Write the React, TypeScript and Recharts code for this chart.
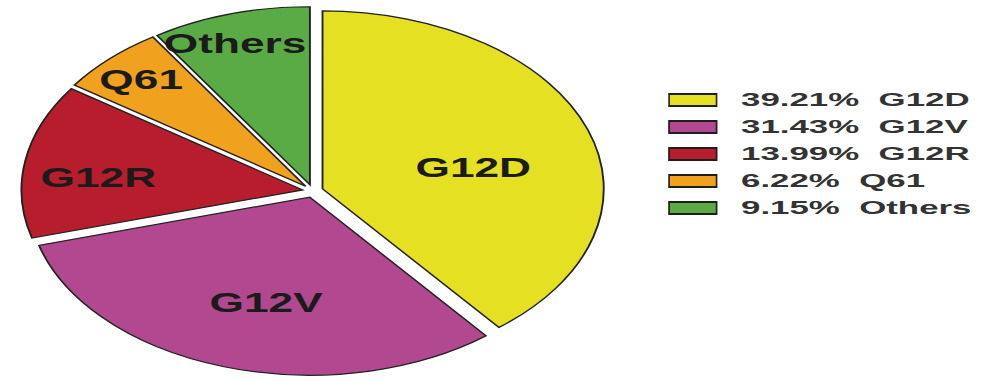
import React from 'react';
import { PieChart, Pie, Cell, Sector, Legend } from 'recharts';

// KRAS mutation subtypes and their share of cases (%)
const categories = ['G12D', 'G12V', 'G12R', 'Q61', 'Others'];
const shares = [39.21, 31.43, 13.99, 6.22, 9.15];

const SLICE_COLORS = ['#e6e022', '#b2488f', '#b81d2e', '#f0a21e', '#5aab46'];

// label placement inside each slice: [fraction of radius, angle tweak in degrees]
const LABEL_PLACE: Record<string, [number, number]> = {
  G12D: [0.55, -6.5],
  G12V: [0.61, 3],
  G12R: [0.73, 4],
  Q61: [0.84, 0],
  Others: [0.84, 2],
};

const data = categories.map((name, i) => ({ name, value: shares[i] }));

const RADIAN = Math.PI / 180;
const EXPLODE = 6.5;
const STRETCH = 1.58;
const WIDTH = 625;
const HEIGHT = 380;
const FONT = '"Liberation Sans", Arial, Helvetica, sans-serif';

const ExplodedSlice = (props: any) => {
  const { cx, cy, midAngle } = props;
  const dx = EXPLODE * Math.cos(-midAngle * RADIAN);
  const dy = EXPLODE * Math.sin(-midAngle * RADIAN);
  return <Sector {...props} cx={cx + dx} cy={cy + dy} />;
};

const SliceLabel = (props: any) => {
  const { cx, cy, midAngle, outerRadius, name } = props;
  const [frac, tweak] = LABEL_PLACE[name] ?? [0.65, 0];
  const ox = cx + EXPLODE * Math.cos(-midAngle * RADIAN);
  const oy = cy + EXPLODE * Math.sin(-midAngle * RADIAN);
  const a = (midAngle + tweak) * RADIAN;
  const r = outerRadius * frac;
  const x = ox + r * Math.cos(-a);
  const y = oy + r * Math.sin(-a);
  return (
    <text
      x={x}
      y={y}
      textAnchor="middle"
      dominantBaseline="central"
      fill="#1b1b1b"
      fontFamily={FONT}
      fontWeight={700}
      fontSize={28}
    >
      {name}
    </text>
  );
};

// legend rows follow the slice order, colours taken from the rendered payload
const LegendList = (props: any) => {
  const items: any[] = props.payload ?? [];
  return (
    <div>
      {categories.map((name, idx) => {
        const item = items.find((p) => p.value === name);
        const color = item?.color ?? SLICE_COLORS[idx];
        const text = `${shares[idx].toFixed(2)}%  ${name}`;
        return (
          <div key={name} style={{ height: 27.2, display: 'flex', alignItems: 'center' }}>
            <span
              style={{
                width: 31.6,
                height: 14,
                boxSizing: 'border-box',
                borderStyle: 'solid',
                borderColor: '#1e1e1e',
                borderWidth: '2px 1.3px',
                background: color,
                flex: 'none',
              }}
            />
            <span
              style={{
                marginLeft: 14.8,
                fontFamily: FONT,
                fontWeight: 700,
                fontSize: 18,
                lineHeight: '18px',
                color: '#333333',
                whiteSpace: 'pre',
                transform: 'scaleX(1.225)',
                transformOrigin: '0 50%',
              }}
            >
              {text}
            </span>
          </div>
        );
      })}
    </div>
  );
};

export default function App() {
  return (
    <div
      style={{
        position: 'absolute',
        left: 0,
        top: 0,
        width: WIDTH,
        height: HEIGHT,
        transform: `scaleX(${STRETCH})`,
        transformOrigin: '0 0',
        background: '#ffffff',
        fontFamily: FONT,
      }}
    >
      <PieChart width={WIDTH} height={HEIGHT} margin={{ top: 0, right: 0, bottom: 0, left: 0 }}>
        <Pie
          data={data}
          dataKey="value"
          nameKey="name"
          cx={198}
          cy={191}
          outerRadius={178}
          startAngle={90}
          endAngle={-270}
          stroke="#222222"
          strokeWidth={1.2}
          isAnimationActive={false}
          shape={ExplodedSlice}
          label={SliceLabel}
          labelLine={false}
        >
          {data.map((d, i) => (
            <Cell key={d.name} fill={SLICE_COLORS[i]} />
          ))}
        </Pie>
        <Legend
          content={LegendList}
          layout="vertical"
          wrapperStyle={{ left: 422.6, top: 86, width: 200, height: 140 }}
        />
      </PieChart>
    </div>
  );
}
